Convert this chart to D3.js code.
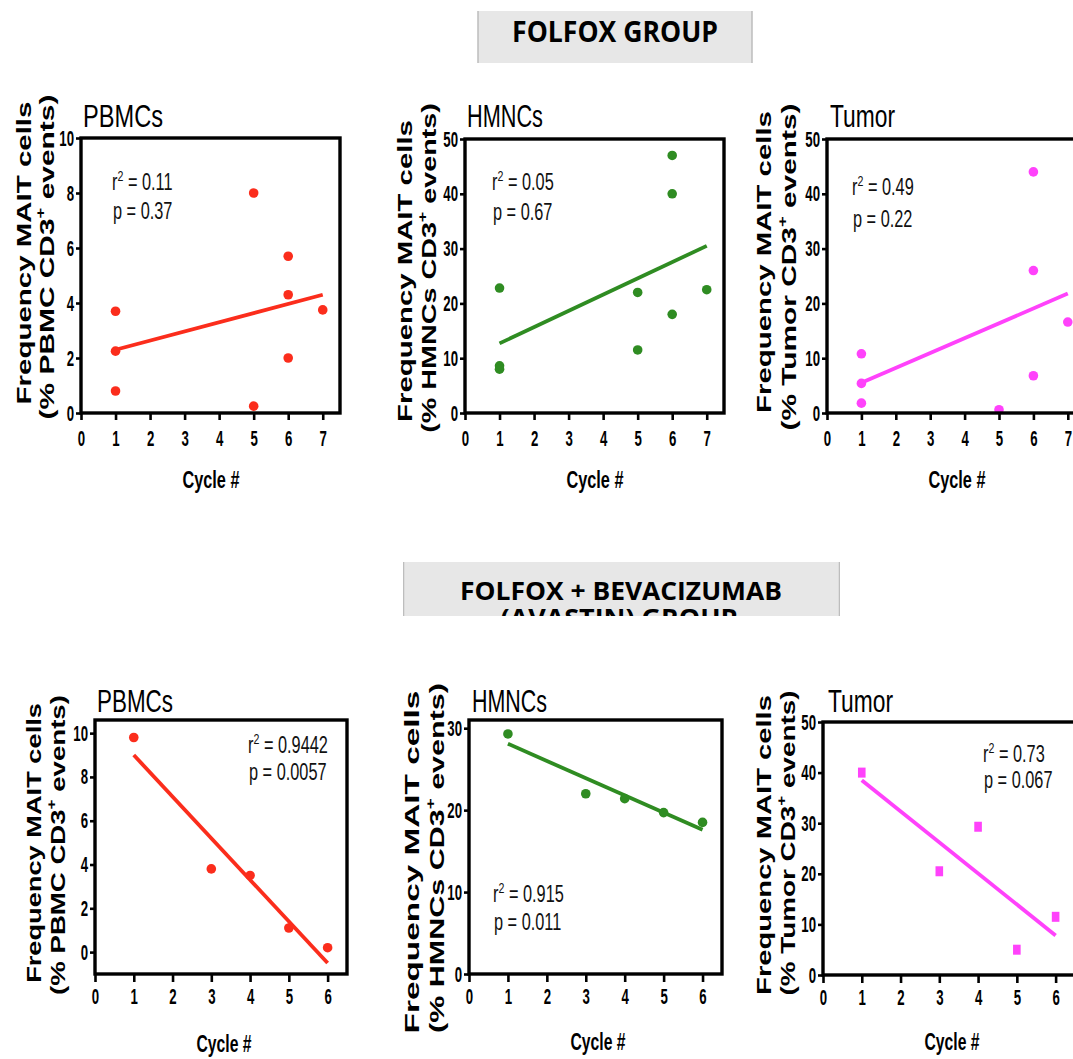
<!DOCTYPE html>
<html>
<head>
  <meta charset="utf-8">
  <title>MAIT cells by cycle</title>
  <script src="https://d3js.org/d3.v7.min.js"></script>
  <style>
    body { margin: 0; background: #fff; }
    svg { display: block; }
  </style>
</head>
<body>
  <div id="chart"></div>
  <script>
    // values: cycle number and % MAIT cells of CD3+ events
    const folfoxPbmcCycle = [1, 1, 1, 5, 5, 6, 6, 6, 7];
    const folfoxPbmcFreq  = [3.7, 2.25, 0.8, 8.0, 0.25, 5.7, 4.3, 2.0, 3.75];
    const folfoxHmncCycle = [1, 1, 1, 5, 5, 6, 6, 6, 7];
    const folfoxHmncFreq  = [22.8, 8.6, 8.0, 22.0, 11.5, 47.0, 40.0, 18.0, 22.5];
    const folfoxTumorCycle = [1, 1, 1, 5, 6, 6, 6, 7];
    const folfoxTumorFreq  = [10.8, 5.4, 1.8, 0.6, 44.0, 26.0, 6.8, 16.6];

    const avastinPbmcCycle = [1, 3, 4, 5, 6];
    const avastinPbmcFreq  = [9.8, 3.8, 3.5, 1.1, 0.2];
    const avastinHmncCycle = [1, 3, 4, 5, 6];
    const avastinHmncFreq  = [29.3, 22.0, 21.4, 19.7, 18.5];
    const avastinTumorCycle = [1, 3, 4, 5, 6];
    const avastinTumorFreq  = [40.0, 20.5, 29.3, 5.0, 11.5];

    // regression line end points [cycle, freq]
    const folfoxPbmcFit  = [[1, 2.3], [7, 4.3]];
    const folfoxHmncFit  = [[1, 12.7], [7, 30.5]];
    const folfoxTumorFit = [[1, 5.5], [7, 21.8]];
    const avastinPbmcFit  = [[1, 9.0], [6, -0.5]];
    const avastinHmncFit  = [[1, 28.1], [6, 17.6]];
    const avastinTumorFit = [[1, 38.5], [6, 7.8]];

    // r squared and p
    const folfoxStats  = [["0.11", "0.37"], ["0.05", "0.67"], ["0.49", "0.22"]];
    const avastinStats = [["0.9442", "0.0057"], ["0.915", "0.011"], ["0.73", "0.067"]];

    const folfoxCycleTicks  = [0, 1, 2, 3, 4, 5, 6, 7];
    const avastinCycleTicks = [0, 1, 2, 3, 4, 5, 6];
    const pbmcFreqTicks  = [0, 2, 4, 6, 8, 10];
    const fiftyFreqTicks = [0, 10, 20, 30, 40, 50];
    const thirtyFreqTicks = [0, 10, 20, 30];

    const panelTitles = ["PBMCs", "HMNCs", "Tumor"];
    const yTitleTop = "Frequency MAIT cells";
    const yTitleSample = ["PBMC", "HMNCs", "Tumor"];
    const xTitle = "Cycle #";
    const groupTitle1 = "FOLFOX GROUP";
    const groupTitle2 = ["FOLFOX + BEVACIZUMAB", "(AVASTIN) GROUP"];

    const colors = ["#fb2d1c", "#2f8c22", "#ff42fb"];

    const W = 1073, H = 1059;
    const sans = "'Liberation Sans', Arial, Helvetica, sans-serif";
    const headFont = "'Open Sans', 'Liberation Sans', sans-serif";

    const svg = d3.select("#chart").append("svg")
      .attr("width", W).attr("height", H);
    svg.append("rect").attr("width", W).attr("height", H).attr("fill", "#fff");

    // squeeze/stretch a text horizontally to a measured width
    function fitText(sel, len, base) {
      const w = sel.node().getComputedTextLength();
      sel.attr("transform", `${base} scale(${len / w},1)`);
    }

    // layout of each panel (pixels from the picture)
    const panels = [
      { cyc: folfoxPbmcCycle, freq: folfoxPbmcFreq, fit: folfoxPbmcFit, stats: folfoxStats[0],
        col: 0, shape: "circle", xTicks: folfoxCycleTicks, yTicks: pbmcFreqTicks,
        xr: [81, 340], yr: [413, 138], xDom: [0, 7.5], yDom: [0, 10],
        tx: 83, ty: 127, tw: 80, sx: 112, sy: [190, 219],
        b: [31, 54], c: [253, 257], len: [303, 325], cx: 211, cy: 488, cw: 57, xk: 7, xp: 10 },
      { cyc: folfoxHmncCycle, freq: folfoxHmncFreq, fit: folfoxHmncFit, stats: folfoxStats[1],
        col: 1, shape: "circle", xTicks: folfoxCycleTicks, yTicks: fiftyFreqTicks,
        xr: [465, 724], yr: [413, 139], xDom: [0, 7.5], yDom: [0, 50],
        tx: 467, ty: 127, tw: 76, sx: 492, sy: [190, 220],
        b: [412, 436], c: [271, 268], len: [302, 330], cx: 595, cy: 488, cw: 57, xk: 7, xp: 10 },
      { cyc: folfoxTumorCycle, freq: folfoxTumorFreq, fit: folfoxTumorFit, stats: folfoxStats[2],
        col: 2, shape: "circle", xTicks: folfoxCycleTicks, yTicks: fiftyFreqTicks,
        xr: [827, 1085], yr: [413, 139], xDom: [0, 7.5], yDom: [0, 50],
        tx: 830, ty: 127, tw: 65, sx: 852, sy: [195, 227],
        b: [771, 796], c: [262, 267], len: [302, 327], cx: 957, cy: 488, cw: 57, xk: 7, xp: 10 },
      { cyc: avastinPbmcCycle, freq: avastinPbmcFreq, fit: avastinPbmcFit, stats: avastinStats[0],
        col: 0, shape: "circle", xTicks: avastinCycleTicks, yTicks: pbmcFreqTicks,
        xr: [95, 347], yr: [974, 720], xDom: [0, 6.5], yDom: [-1, 10.6],
        tx: 97, ty: 712, tw: 76, sx: 248, sy: [753, 780],
        b: [41, 65], c: [843, 845], len: [280, 300], cx: 224, cy: 1052, cw: 55, xk: 8, xp: 6 },
      { cyc: avastinHmncCycle, freq: avastinHmncFreq, fit: avastinHmncFit, stats: avastinStats[1],
        col: 1, shape: "circle", xTicks: avastinCycleTicks, yTicks: thirtyFreqTicks,
        xr: [469, 722], yr: [974, 720], xDom: [0, 6.5], yDom: [0, 31],
        tx: 472, ty: 712, tw: 75, sx: 493, sy: [902, 930],
        b: [419, 444], c: [862, 858], len: [343, 350], cx: 598, cy: 1050, cw: 55, xk: 8, xp: 6 },
      { cyc: avastinTumorCycle, freq: avastinTumorFreq, fit: avastinTumorFit, stats: avastinStats[2],
        col: 2, shape: "square", xTicks: avastinCycleTicks, yTicks: fiftyFreqTicks,
        xr: [823, 1075], yr: [975, 722], xDom: [0, 6.5], yDom: [0, 50],
        tx: 828, ty: 712, tw: 65, sx: 983, sy: [762, 788],
        b: [771, 795], c: [845, 843], len: [300, 305], cx: 952, cy: 1050, cw: 55, xk: 8, xp: 6 }
    ];

    panels.forEach(p => {
      const g = svg.append("g");
      const color = colors[p.col];
      const x = d3.scaleLinear().domain(p.xDom).range(p.xr);
      const y = d3.scaleLinear().domain(p.yDom).range(p.yr);

      // fit line
      g.append("path")
        .datum(p.fit)
        .attr("fill", "none")
        .attr("stroke", color)
        .attr("stroke-width", 3.8)
        .attr("d", d3.line().x(d => x(d[0])).y(d => y(d[1])));

      // points
      const pts = p.cyc.map((c, i) => [c, p.freq[i]]);
      if (p.shape === "circle") {
        g.selectAll(".pt").data(pts).enter().append("circle")
          .attr("cx", d => x(d[0])).attr("cy", d => y(d[1]))
          .attr("r", 4.8).attr("fill", color);
      } else {
        g.selectAll(".pt").data(pts).enter().append("rect")
          .attr("x", d => x(d[0]) - 3.8).attr("y", d => y(d[1]) - 5)
          .attr("width", 7.6).attr("height", 10).attr("fill", color);
      }

      // frame
      g.append("rect")
        .attr("x", p.xr[0]).attr("y", p.yr[1])
        .attr("width", p.xr[1] - p.xr[0]).attr("height", p.yr[0] - p.yr[1])
        .attr("fill", "none").attr("stroke", "#000").attr("stroke-width", 3.4);

      // x axis
      const gx = g.append("g").attr("transform", `translate(0,${p.yr[0]})`)
        .call(d3.axisBottom(x).tickValues(p.xTicks).tickSize(p.xk).tickPadding(p.xp).tickFormat(d3.format("d")));
      gx.select(".domain").remove();
      gx.selectAll("line").attr("stroke", "#000").attr("stroke-width", 2.6);
      gx.selectAll("text")
        .attr("font-family", sans).attr("font-weight", "bold").attr("font-size", 22)
        .attr("fill", "#000").attr("transform", "scale(0.6,1)");

      // y axis
      const yk = 5, yp = 2, ysx = 0.6;
      const gy = g.append("g").attr("transform", `translate(${p.xr[0]},0)`)
        .call(d3.axisLeft(y).tickValues(p.yTicks).tickSize(yk).tickPadding(yp).tickFormat(d3.format("d")));
      gy.select(".domain").remove();
      gy.selectAll("line").attr("stroke", "#000").attr("stroke-width", 2.6);
      gy.selectAll("text")
        .attr("font-family", sans).attr("font-weight", "bold").attr("font-size", 22)
        .attr("fill", "#000").attr("x", -(yk + yp) / ysx).attr("transform", `scale(${ysx},1)`);

      // panel title
      const t = g.append("text").attr("font-family", sans).attr("font-size", 32)
        .attr("fill", "#000").text(panelTitles[p.col]);
      fitText(t, p.tw, `translate(${p.tx},${p.ty})`);

      // r squared / p
      const s1 = g.append("text").attr("font-family", sans).attr("font-size", 23).attr("fill", "#111")
        .attr("transform", `translate(${p.sx},${p.sy[0]}) scale(0.71,1)`);
      s1.append("tspan").text("r");
      s1.append("tspan").attr("font-size", 15).attr("dy", -9).text("2");
      s1.append("tspan").attr("dy", 9).text(" = " + p.stats[0]);
      g.append("text").attr("font-family", sans).attr("font-size", 23).attr("fill", "#111")
        .attr("transform", `translate(${p.sx + 1},${p.sy[1]}) scale(0.71,1)`)
        .text("p = " + p.stats[1]);

      // y titles
      const y1 = g.append("text").attr("font-family", sans).attr("font-weight", "bold")
        .attr("font-size", 21).attr("text-anchor", "middle").attr("fill", "#000").text(yTitleTop);
      fitText(y1, p.len[0], `translate(${p.b[0]},${p.c[0]}) rotate(-90)`);
      const y2 = g.append("text").attr("font-family", sans).attr("font-weight", "bold")
        .attr("font-size", 21).attr("text-anchor", "middle").attr("fill", "#000");
      y2.append("tspan").text(`(% ${yTitleSample[p.col]} CD3`);
      y2.append("tspan").attr("font-size", 13).attr("dy", -9).text("+");
      y2.append("tspan").attr("dy", 9).text(" events)");
      fitText(y2, p.len[1], `translate(${p.b[1]},${p.c[1]}) rotate(-90)`);

      // x title
      const xt = g.append("text").attr("font-family", sans).attr("font-weight", "bold")
        .attr("font-size", 24).attr("text-anchor", "middle").attr("fill", "#000").text(xTitle);
      fitText(xt, p.cw, `translate(${p.cx},${p.cy})`);
    });

    // group headers
    const h1 = svg.append("g");
    h1.append("rect").attr("x", 478).attr("y", 11).attr("width", 274).attr("height", 52).attr("fill", "#e7e7e7");
    h1.selectAll(".edge").data([478, 752]).enter().append("line")
      .attr("x1", d => d).attr("x2", d => d).attr("y1", 11).attr("y2", 63)
      .attr("stroke", "#bdbdbd").attr("stroke-width", 1.5);
    const ht1 = h1.append("text").attr("font-family", headFont).attr("font-weight", "bold")
      .attr("font-size", 28).attr("text-anchor", "middle").attr("fill", "#000").text(groupTitle1);
    fitText(ht1, 206, "translate(615,42)");

    svg.append("clipPath").attr("id", "hclip")
      .append("rect").attr("x", 403).attr("y", 562).attr("width", 437).attr("height", 54);
    const h2 = svg.append("g").attr("clip-path", "url(#hclip)");
    h2.append("rect").attr("x", 403).attr("y", 562).attr("width", 437).attr("height", 54).attr("fill", "#e7e7e7");
    h2.selectAll(".edge").data([403.5, 839.5]).enter().append("line")
      .attr("x1", d => d).attr("x2", d => d).attr("y1", 562).attr("y2", 616)
      .attr("stroke", "#bdbdbd").attr("stroke-width", 1.5);
    const ht2 = h2.append("text").attr("font-family", headFont).attr("font-weight", "bold")
      .attr("font-size", 25).attr("text-anchor", "middle").attr("fill", "#000").text(groupTitle2[0]);
    fitText(ht2, 322, "translate(621,600)");
    const ht3 = h2.append("text").attr("font-family", headFont).attr("font-weight", "bold")
      .attr("font-size", 25).attr("text-anchor", "middle").attr("fill", "#000").text(groupTitle2[1]);
    fitText(ht3, 237, "translate(619,627)");
  </script>
</body>
</html>
